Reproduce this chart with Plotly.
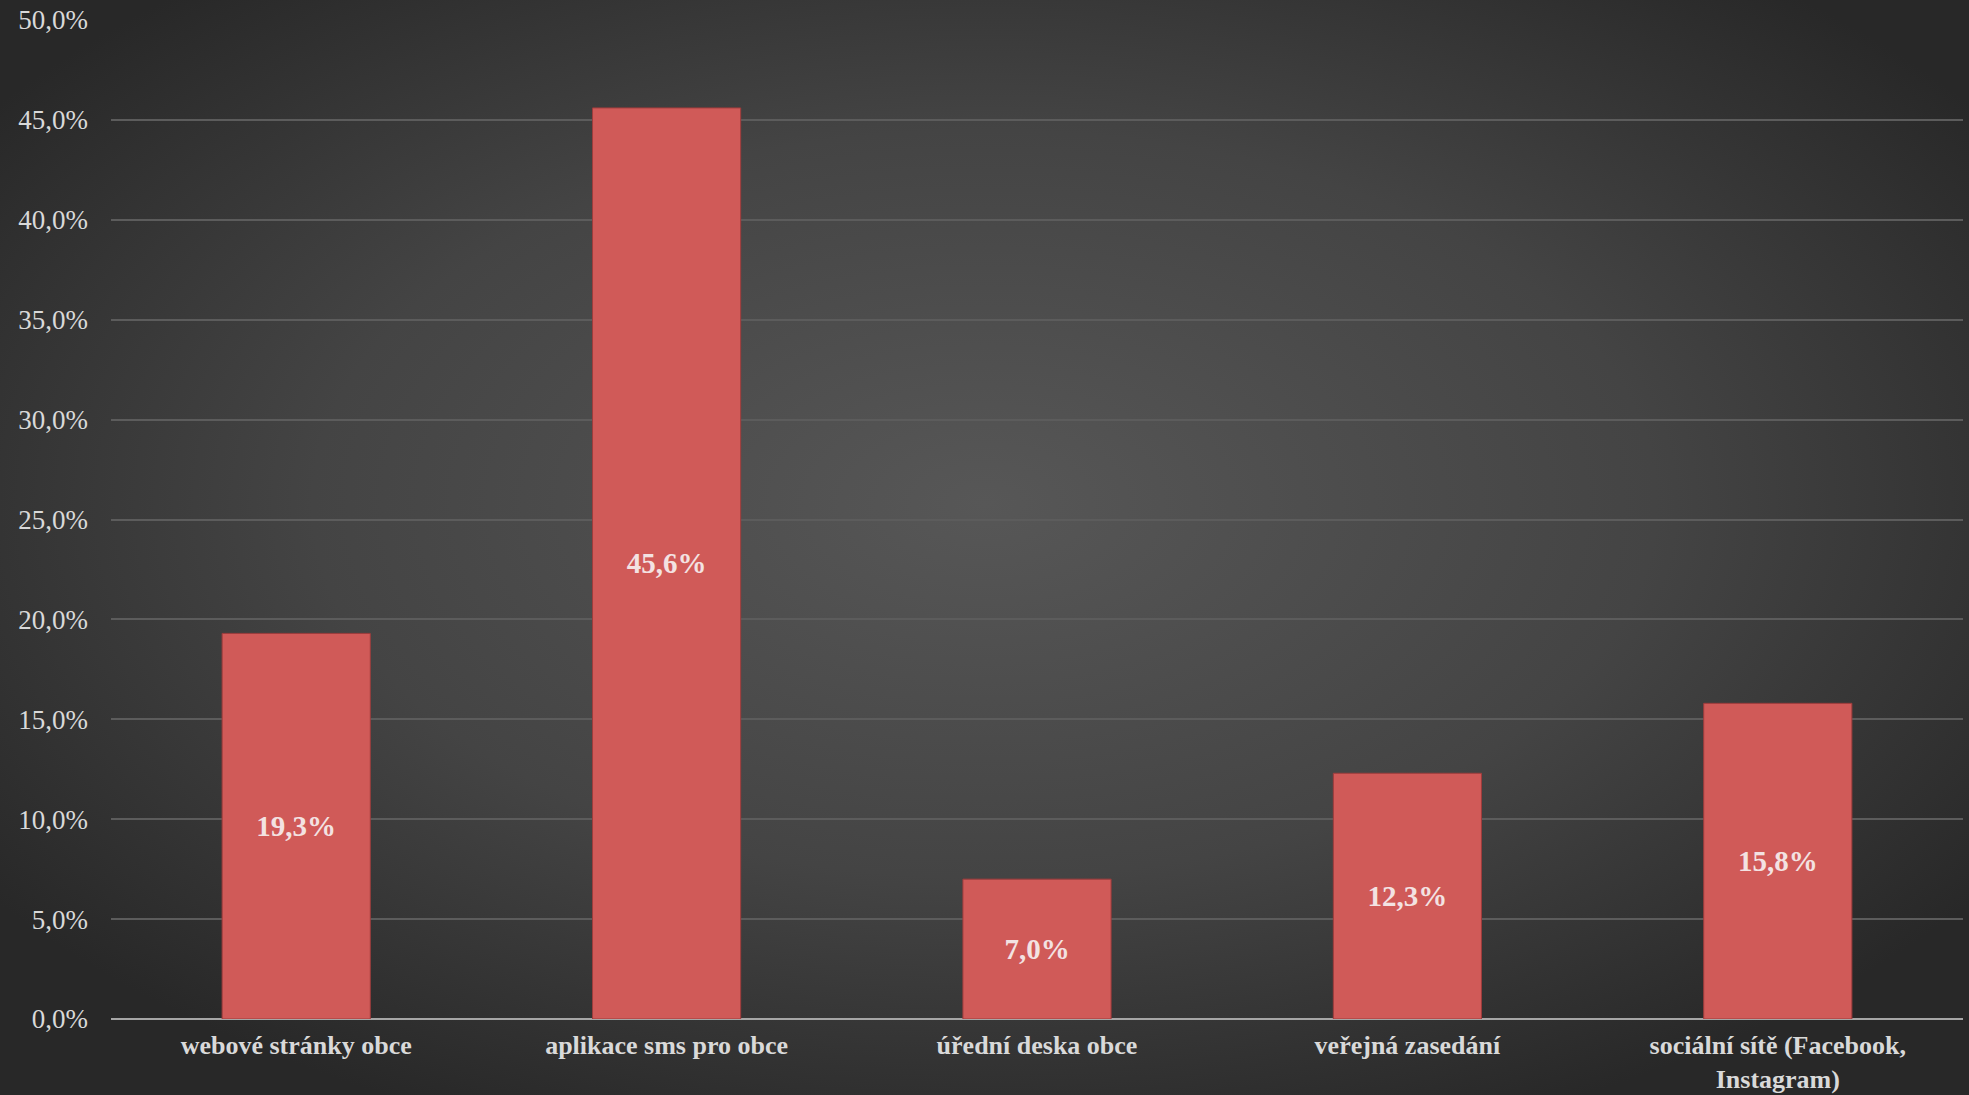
import base64
import plotly.graph_objects as go

categories = ["webové stránky obce", "aplikace sms pro obce", "úřední deska obce",
              "veřejná zasedání", "sociální sítě (Facebook,<br>Instagram)"]
values = [19.3, 45.6, 7.0, 12.3, 15.8]
tick_values = [0, 5, 10, 15, 20, 25, 30, 35, 40, 45, 50]
tick_labels = [f"{v:.1f}".replace(".", ",") + "%" for v in tick_values]

W, H = 1969, 1095
ML, MR, MT, MB = 111, 6, 20, 76
pw, ph = W - ML - MR, H - MT - MB

svg = f'''<svg xmlns="http://www.w3.org/2000/svg" width="{W}" height="{H}" viewBox="0 0 {W} {H}" preserveAspectRatio="none">
<defs><radialGradient id="g" cx="0.5" cy="0.46" r="0.62">
<stop offset="0" stop-color="#575757"/><stop offset="0.55" stop-color="#444444"/><stop offset="1" stop-color="#282828"/>
</radialGradient></defs><rect width="{W}" height="{H}" fill="url(#g)"/></svg>'''
src = "data:image/svg+xml;base64," + base64.b64encode(svg.encode()).decode()

font = "Liberation Serif"

fig = go.Figure(go.Bar(
    x=categories, y=values,
    marker=dict(color="#d05a58", line=dict(color="#9e3c3c", width=1)),
    width=0.4,
    texttemplate="%{y:.1f}%",
    textposition="inside", insidetextanchor="middle",
    textfont=dict(family=font, size=29, color="#f3e2e2", weight="bold"),
    textangle=0,
))

fig.update_layout(
    width=W, height=H,
    margin=dict(l=ML, r=MR, t=MT, b=MB, autoexpand=False),
    paper_bgcolor="#333333", plot_bgcolor="rgba(0,0,0,0)",
    separators=", ",
    showlegend=False,
    images=[dict(source=src, xref="paper", yref="paper",
                 x=-ML / pw, y=1 + MT / ph, sizex=W / pw, sizey=H / ph,
                 sizing="stretch", xanchor="left", yanchor="top", layer="below")],
    xaxis=dict(showgrid=False, showline=False, zeroline=False,
               tickfont=dict(family=font, size=26, color="#d9d9d9", weight="bold"),
               ticks="", ticklabelstandoff=8),
    yaxis=dict(range=[0, 50], tickvals=tick_values, ticktext=tick_labels,
               showgrid=True, gridcolor="#5c5c5c", gridwidth=2,
               zeroline=True, zerolinecolor="#a6a6a6", zerolinewidth=2,
               showline=False, ticks="",
               tickfont=dict(family=font, size=27, color="#d9d9d9"),
               ticklabelstandoff=22),
)

fig.write_html("out.html", config={"displayModeBar": False},
               post_script="document.body.style.margin='0';document.body.style.overflow='hidden';")
